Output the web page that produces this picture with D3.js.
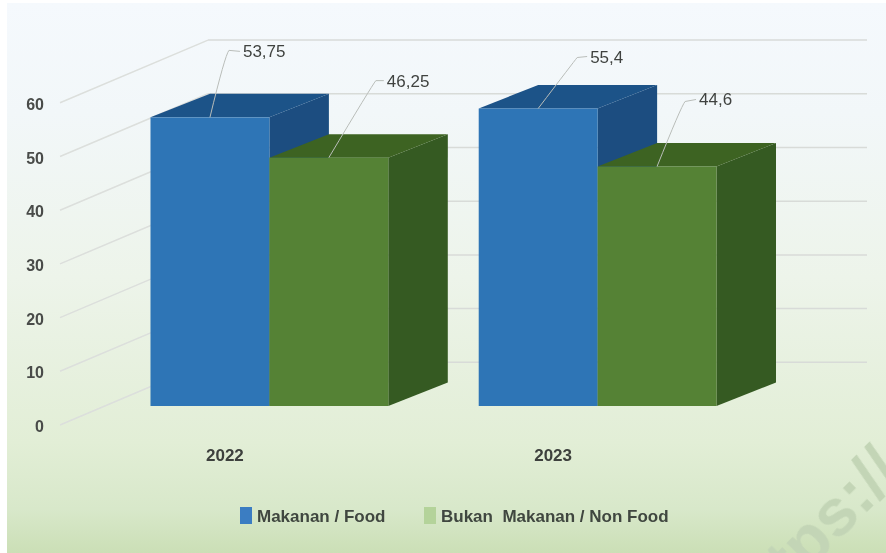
<!DOCTYPE html>
<html><head><meta charset="utf-8">
<script src="https://cdn.jsdelivr.net/npm/d3@7/dist/d3.min.js"></script>
<style>html,body{margin:0;padding:0;background:#fff}svg{display:block}
text{font-family:"Liberation Sans",Arial,sans-serif;white-space:pre}</style></head>
<body><div id="chart"></div>
<script>
const categories = ["2022", "2023"];
const seriesNames = ["Makanan / Food", "Bukan  Makanan / Non Food"];
const foodValues = [53.75, 55.4];
const nonFoodValues = [46.25, 44.6];
const foodLabels = ["53,75", "55,4"];
const nonFoodLabels = ["46,25", "44,6"];
const yTicks = [0, 10, 20, 30, 40, 50, 60];

const W = 886, H = 553;
const svg = d3.select("#chart").append("svg").attr("width", W).attr("height", H);
const defs = svg.append("defs");
const grad = defs.append("linearGradient").attr("id", "bg").attr("x1", 0).attr("x2", 0).attr("y1", 0).attr("y2", 1);
[[0, "#f5f9fd"], [0.2, "#f2f7f9"], [0.5, "#edf4ea"], [0.8, "#e2eed6"], [0.92, "#d8e8ca"], [1, "#cbdfb6"]]
  .forEach(([o, c]) => grad.append("stop").attr("offset", o).attr("stop-color", c));
const blur = defs.append("filter").attr("id", "soft").attr("x", "-5%").attr("y", "-5%").attr("width", "110%").attr("height", "110%");
blur.append("feGaussianBlur").attr("stdDeviation", 0.7);
const blurText = defs.append("filter").attr("id", "softText").attr("x", "-5%").attr("y", "-20%").attr("width", "110%").attr("height", "140%");
blurText.append("feGaussianBlur").attr("stdDeviation", 0.75);
defs.append("clipPath").attr("id", "page").append("rect").attr("x", 7).attr("y", 3).attr("width", W - 7).attr("height", H - 3);

svg.append("rect").attr("x", 7).attr("y", 3).attr("width", W - 7).attr("height", H - 3).attr("fill", "url(#bg)");

// watermark fragment in the reference's bottom right corner
svg.append("g").attr("clip-path", "url(#page)").append("text")
  .attr("transform", "translate(904,475) rotate(-45)")
  .attr("text-anchor", "end").attr("font-size", 66).attr("font-weight", 700)
  .attr("fill", "#c3d5b6").attr("filter", "url(#softText)").text("https://");

const y = d3.scaleLinear().domain([0, 60]).range([406, 83.8]);
const x0 = d3.scaleBand().domain(categories).range([150.5, 716.5]).paddingInner(0.2755).paddingOuter(0);
const x1 = d3.scaleBand().domain(seriesNames).range([0, x0.bandwidth()]);
const depth = { dx: 59.5, dy: -23.5 };
const wall = { left: 60, back: 208, right: 867, drop: -43.7, labelDrop: 20.5, lineDrop: 19 };

const plot = svg.append("g").attr("filter", "url(#soft)");

// gridlines: back wall and side wall
plot.append("g").selectAll("line").data(yTicks).join("line")
  .attr("x1", wall.back).attr("x2", wall.right)
  .attr("y1", d => y(d) + wall.drop).attr("y2", d => y(d) + wall.drop)
  .attr("stroke", "#d8dbd8").attr("stroke-width", 1.5);
plot.append("g").selectAll("line").data(yTicks).join("line")
  .attr("x1", wall.left).attr("x2", wall.back)
  .attr("y1", d => y(d) + wall.lineDrop).attr("y2", d => y(d) + wall.drop)
  .attr("stroke", "#dcdfdc").attr("stroke-width", 1.5);

const styles = [
  { front: "#2e75b6", top: "#1e5288", side: "#1b4e80", values: foodValues, labels: foodLabels },
  { front: "#548235", top: "#3d6322", side: "#355a22", values: nonFoodValues, labels: nonFoodLabels }
];

// bars, back to front within each category
categories.forEach((cat, ci) => {
  styles.forEach((s, si) => {
    const v = s.values[ci];
    const xa = x0(cat) + x1(seriesNames[si]), xb = xa + x1.bandwidth();
    const yt = y(v), yb = y(0);
    const g = plot.append("g");
    g.append("path").attr("fill", s.side).attr("d", d3.line()([
      [xb, yt], [xb + depth.dx, yt + depth.dy], [xb + depth.dx, yb + depth.dy], [xb, yb]]));
    g.append("path").attr("fill", s.top).attr("d", d3.line()([
      [xa, yt], [xa + depth.dx, yt + depth.dy], [xb + depth.dx, yt + depth.dy], [xb, yt]]));
    g.append("rect").attr("x", xa).attr("y", yt).attr("width", xb - xa).attr("height", yb - yt).attr("fill", s.front);
  });
});

// leader lines and value labels: offsets from the anchor at the top of each bar
const leaderOffsets = [
  [{ a: [17, -68], b: [30, -66] }, { a: [37, -52], b: [49, -52] }],
  [{ a: [45, -78], b: [55, -77] }, { a: [26, -66], b: [39, -67] }]
];
const textOffset = 3;
const labels = svg.append("g").attr("filter", "url(#softText)");
categories.forEach((cat, ci) => {
  styles.forEach((s, si) => {
    const v = s.values[ci];
    const ax = x0(cat) + x1(seriesNames[si]) + x1.bandwidth() / 2;
    const ay = y(v);
    const o = leaderOffsets[si][ci];
    const end = [ax + o.b[0], ay + o.b[1]];
    const bend = [ax + o.a[0], ay + o.a[1]];
    const path = d3.path();
    path.moveTo(ax, ay);
    path.quadraticCurveTo(bend[0] - 2, bend[1] + 6, bend[0] + 2, bend[1] + 1);
    path.lineTo(end[0], end[1]);
    labels.append("path").attr("d", path.toString()).attr("fill", "none")
      .attr("stroke", "#b9bdb9").attr("stroke-width", 1);
    labels.append("text").attr("x", end[0] + textOffset).attr("y", end[1] + 6)
      .attr("font-size", 17).attr("fill", "#3f423f").text(s.labels[ci]);
  });
});

// y axis
const yAxis = svg.append("g").attr("transform", `translate(44,${wall.labelDrop})`).attr("filter", "url(#softText)")
  .call(d3.axisLeft(y).tickValues(yTicks).tickSize(0).tickPadding(0).tickFormat(d3.format("d")));
yAxis.select(".domain").remove();
yAxis.selectAll("text").attr("font-size", 16).attr("font-weight", 700).attr("fill", "#494c49");

// x axis
const xAxisScale = d3.scaleBand().domain(categories).range(x0.range()).paddingInner(0.2755).paddingOuter(0);
const xAxis = svg.append("g").attr("transform", "translate(-44.5,449)").attr("filter", "url(#softText)")
  .call(d3.axisBottom(xAxisScale).tickSize(0).tickPadding(0));
xAxis.select(".domain").remove();
xAxis.selectAll("text").attr("font-size", 17).attr("font-weight", 700).attr("fill", "#3c3f3c");

// legend
const legendColors = ["#3b7dc2", "#b4d39a"];
const legendX = d3.scaleOrdinal().domain(seriesNames).range([240, 424]);
const leg = svg.append("g").attr("filter", "url(#softText)").selectAll("g").data(seriesNames).join("g")
  .attr("transform", d => `translate(${legendX(d)},507)`);
leg.append("rect").attr("width", 12).attr("height", 17).attr("fill", (d, i) => legendColors[i]);
leg.append("text").attr("x", 17).attr("y", 14.5).attr("font-size", 17).attr("font-weight", 700)
  .attr("fill", "#3f463f").text(d => d);
</script></body></html>
